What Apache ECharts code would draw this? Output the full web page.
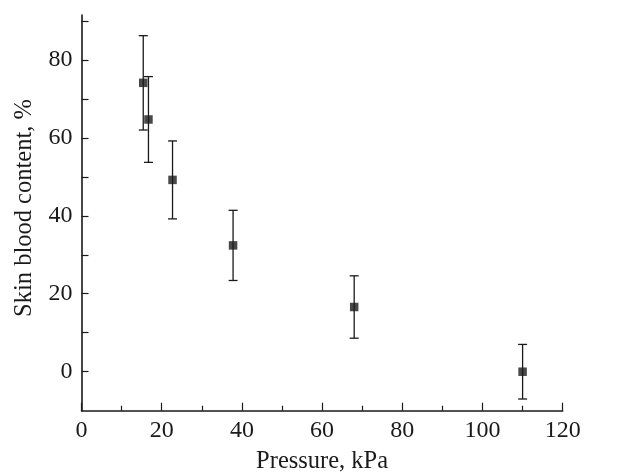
<!DOCTYPE html>
<html>
<head>
<meta charset="utf-8">
<script src="https://cdn.jsdelivr.net/npm/echarts@6/dist/echarts.min.js"></script>
<style>
  html, body { margin: 0; padding: 0; background: #fff; }
  #chart { width: 631px; height: 472px; }
</style>
</head>
<body>
<div id="chart"></div>
<script>
// values
var pressure = [15.4, 16.7, 22.7, 37.8, 68.0, 110.0];   // kPa
var bloodContent = [74.1, 64.7, 49.2, 32.4, 16.6, 0.0]; // %
var errorSize = [12.1, 11.0, 10.0, 9.0, 8.0, 7.0];      // +/- %

var xTitle = "Pressure, kPa";
var yTitle = "Skin blood content, %";

var points = pressure.map(function (x, i) { return [x, bloodContent[i]]; });
var bars = pressure.map(function (x, i) {
  return [x, bloodContent[i] - errorSize[i], bloodContent[i] + errorSize[i]];
});

var font = "'Liberation Serif', 'DejaVu Serif', serif";
var ink = "#1a1a1a";

var chart = echarts.init(document.getElementById("chart"));
chart.setOption({
  animation: false,
  backgroundColor: "#fff",
  grid: { left: 81.5, right: 68.3, top: 15, bottom: 61.3, containLabel: false, outerBoundsMode: "none" },
  xAxis: {
    type: "value",
    min: 0, max: 120, interval: 20,
    name: xTitle, nameLocation: "middle", nameGap: 38,
    nameTextStyle: { fontFamily: font, fontSize: 24.5, color: ink },
    axisLine: { onZero: false, lineStyle: { color: ink, width: 1.6 } },
    axisTick: { inside: true, length: 8, lineStyle: { color: ink, width: 1.2 } },
    minorTick: { show: true, splitNumber: 2, length: 5, lineStyle: { color: ink, width: 1.2 } },
    axisLabel: { fontFamily: font, fontSize: 24, color: ink, margin: 8 },
    splitLine: { show: false }
  },
  yAxis: {
    type: "value",
    min: -10, max: 91.5, interval: 10,
    axisLine: { show: true, onZero: false, lineStyle: { color: ink, width: 1.6 } },
    axisTick: { show: true, inside: true, length: 7, lineStyle: { color: ink, width: 1.2 } },
    axisLabel: {
      fontFamily: font, fontSize: 24, color: ink, margin: 9,
      showMinLabel: false, showMaxLabel: false,
      formatter: function (v) { return v % 20 === 0 ? String(v) : ""; }
    },
    splitLine: { show: false }
  },
  graphic: [{
    type: "text",
    x: 25, y: 208,
    rotation: Math.PI / 2,
    style: {
      text: yTitle, fill: ink, font: "24.5px " + font,
      textAlign: "center", textVerticalAlign: "middle"
    }
  }],
  series: [
    {
      type: "custom",
      data: bars,
      z: 2,
      renderItem: function (params, api) {
        var lo = api.coord([api.value(0), api.value(1)]);
        var hi = api.coord([api.value(0), api.value(2)]);
        var w = 4.5;
        var st = { stroke: ink, lineWidth: 1.3 };
        return {
          type: "group",
          children: [
            { type: "line", shape: { x1: lo[0], y1: lo[1], x2: hi[0], y2: hi[1] }, style: st },
            { type: "line", shape: { x1: lo[0] - w, y1: lo[1], x2: lo[0] + w, y2: lo[1] }, style: st },
            { type: "line", shape: { x1: hi[0] - w, y1: hi[1], x2: hi[0] + w, y2: hi[1] }, style: st }
          ]
        };
      }
    },
    {
      type: "scatter",
      data: points,
      symbol: "rect",
      symbolSize: 8.5,
      z: 3,
      itemStyle: { color: ink }
    }
  ]
});
</script>
</body>
</html>
